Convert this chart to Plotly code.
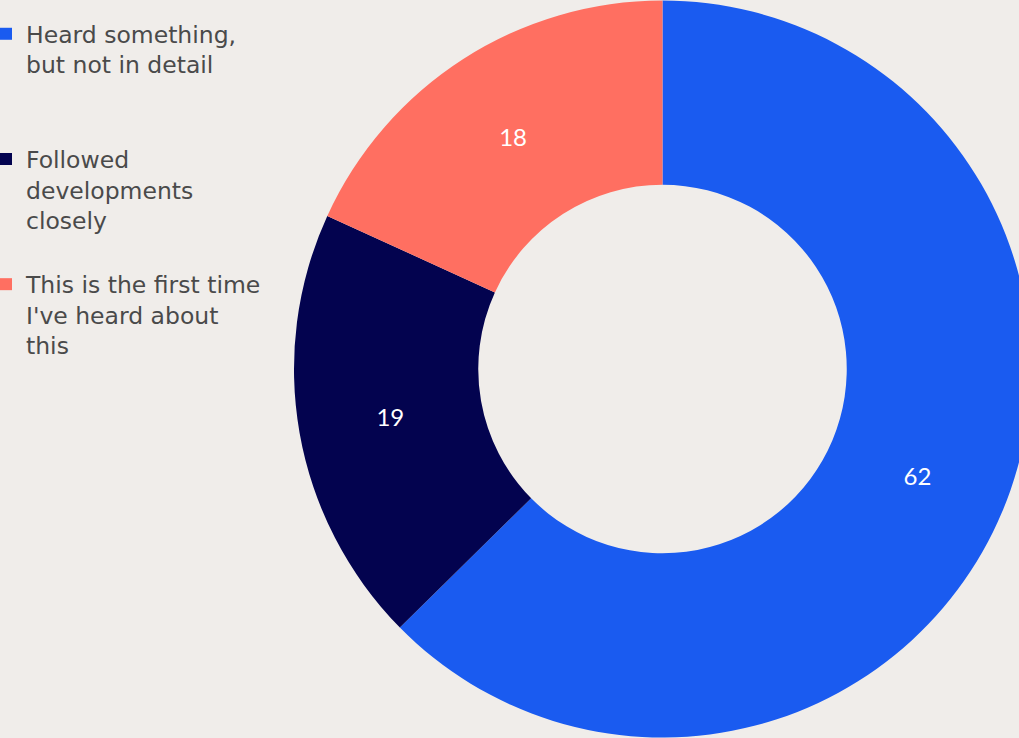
import plotly.graph_objects as go

# Survey answers: awareness of the topic
labels = [
    "Heard something,<br>but not in detail<br>\u00a0<br>\u00a0",
    "Followed<br>developments<br>closely<br>\u00a0",
    "This is the first time<br>I've heard about<br>this",
]
values = [62, 19, 18]
colors = ["#1A5BF0", "#03034F", "#FF6F61"]

FIG_W, FIG_H = 1031, 738
BG = "#F0EDEA"

fig = go.Figure(
    go.Pie(
        labels=labels,
        values=values,
        hole=0.5,
        sort=False,
        direction="clockwise",
        rotation=0,
        marker=dict(colors=colors, line=dict(width=0)),
        textinfo="value",
        textposition="inside",
        insidetextorientation="horizontal",
        insidetextfont=dict(color="white", size=24, family="Lato"),
        domain=dict(x=[294 / FIG_W, 1.0], y=[0.0, 1.0]),
    )
)

fig.update_layout(
    width=FIG_W,
    height=FIG_H,
    margin=dict(l=0, r=0, t=0, b=0, autoexpand=False),
    paper_bgcolor=BG,
    plot_bgcolor=BG,
    showlegend=True,
    legend=dict(
        x=-14 / FIG_W,
        y=1 - 12 / FIG_H,
        xanchor="left",
        yanchor="top",
        valign="top",
        font=dict(family="DejaVu Sans", size=23.5, color="#4A4A4A"),
        itemwidth=30,
        bgcolor="rgba(0,0,0,0)",
    ),
)

fig.write_html(
    "out.html",
    post_script="document.body.style.margin='0';document.body.style.overflow='hidden';document.documentElement.style.overflow='hidden';",
)
